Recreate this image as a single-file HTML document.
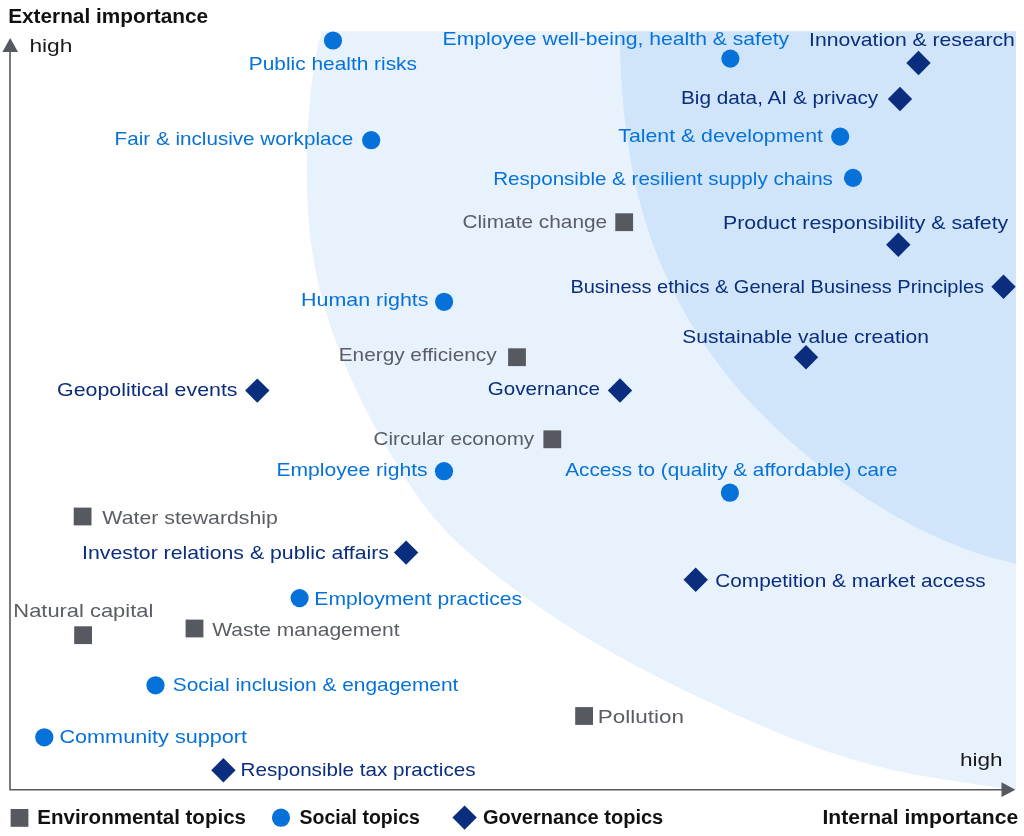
<!DOCTYPE html>
<html lang="en"><head><meta charset="utf-8"><title>Materiality matrix</title>
<style>
html,body{margin:0;padding:0;background:#fff;}
body{width:1024px;height:836px;overflow:hidden;}
svg{display:block;}
text{font-family:"Liberation Sans",Arial,sans-serif;font-size:18.6px;}
.b{font-weight:bold;font-size:19.5px;}
</style></head><body>
<svg width="1024" height="836" viewBox="0 0 1024 836">
<rect width="1024" height="836" fill="#ffffff"/>
<path d="M321.5 31.2 L318.0 45.4 L315.1 59.9 L312.8 74.6 L311.0 89.3 L309.6 104.0 L308.5 118.8 L307.7 133.6 L307.1 148.5 L306.8 163.4 L306.8 178.2 L307.1 193.1 L307.8 207.9 L308.8 222.7 L310.3 237.4 L312.3 252.1 L314.8 266.7 L317.8 281.2 L321.3 295.5 L325.3 309.8 L329.7 323.9 L334.6 338.0 L339.8 351.9 L345.3 365.6 L351.2 379.2 L357.5 392.7 L364.0 406.1 L370.8 419.3 L377.9 432.4 L385.2 445.3 L392.8 458.1 L400.6 470.8 L408.6 483.3 L416.9 495.6 L425.6 507.5 L434.9 519.0 L444.8 529.9 L455.2 540.4 L466.1 550.4 L477.3 560.2 L488.8 569.6 L500.5 578.8 L512.4 587.8 L524.4 596.6 L536.5 605.2 L548.8 613.6 L561.1 621.7 L573.6 629.7 L586.2 637.5 L598.9 645.1 L611.7 652.5 L624.6 659.8 L637.7 666.8 L650.8 673.6 L664.1 680.3 L677.4 686.9 L690.8 693.4 L704.2 699.8 L717.6 706.1 L731.1 712.4 L744.7 718.5 L758.2 724.5 L771.9 730.3 L785.6 735.9 L799.4 741.3 L813.3 746.5 L827.3 751.4 L841.3 756.0 L855.5 760.3 L869.8 764.3 L884.1 767.9 L898.6 771.2 L913.2 774.2 L927.9 776.8 L942.6 779.3 L957.3 781.6 L972.0 783.7 L986.7 785.7 L1001.4 787.7 L1016.0 789.6 L1016.0 31.2 Z" fill="#e8f2fd"/>
<path d="M619.7 31.2 L619.8 40.1 L620.0 49.1 L620.3 58.2 L620.7 67.2 L621.1 76.3 L621.7 85.4 L622.4 94.5 L623.1 103.6 L624.0 112.7 L625.0 121.8 L626.1 130.8 L627.4 139.9 L628.7 148.9 L630.2 157.9 L631.9 166.9 L633.6 175.8 L635.6 184.7 L637.7 193.6 L639.9 202.4 L642.3 211.2 L644.8 219.9 L647.6 228.6 L650.5 237.2 L653.5 245.7 L656.8 254.2 L660.2 262.6 L663.8 271.0 L667.5 279.2 L671.4 287.4 L675.5 295.5 L679.7 303.6 L684.1 311.5 L688.6 319.4 L693.3 327.2 L698.1 334.9 L703.1 342.5 L708.2 350.0 L713.5 357.4 L718.9 364.7 L724.4 371.9 L730.1 379.0 L735.9 386.0 L741.8 392.9 L747.9 399.7 L754.1 406.4 L760.4 413.0 L766.8 419.4 L773.3 425.8 L780.0 432.0 L786.7 438.2 L793.6 444.2 L800.5 450.1 L807.5 456.0 L814.7 461.7 L821.9 467.3 L829.2 472.8 L836.5 478.2 L844.0 483.5 L851.5 488.6 L859.1 493.7 L866.7 498.7 L874.4 503.6 L882.2 508.3 L890.0 513.0 L897.9 517.5 L905.8 521.9 L913.8 526.2 L921.9 530.3 L930.0 534.2 L938.3 538.0 L946.6 541.7 L954.9 545.1 L963.4 548.3 L971.9 551.4 L980.6 554.2 L989.3 556.9 L998.1 559.3 L1007.0 561.5 L1016.0 563.4 L1016.0 31.2 Z" fill="#d0e5f9"/>
<path d="M10 50V789.8H1003" fill="none" stroke="#565960" stroke-width="1.6"/>
<path d="M10.2 38L18 52H2.4Z" fill="#565960"/>
<path d="M1015.4 789.7L1001.5 782.3V797.1Z" fill="#565960"/>
<rect x="615.3" y="213.3" width="17.8" height="17.8" fill="#565960"/>
<rect x="508.1" y="348.3" width="17.8" height="17.8" fill="#565960"/>
<rect x="543.4" y="430.4" width="17.8" height="17.8" fill="#565960"/>
<rect x="73.7" y="507.6" width="17.8" height="17.8" fill="#565960"/>
<rect x="74.2" y="626.3" width="17.8" height="17.8" fill="#565960"/>
<rect x="185.6" y="619.6" width="17.8" height="17.8" fill="#565960"/>
<rect x="575.2" y="707.1" width="17.8" height="17.8" fill="#565960"/>
<rect x="10.6" y="809.0" width="17.8" height="17.8" fill="#565960"/>
<circle cx="333.0" cy="40.5" r="9.1" fill="#0672d9"/>
<circle cx="730.4" cy="58.6" r="9.1" fill="#0672d9"/>
<circle cx="840.2" cy="136.6" r="9.1" fill="#0672d9"/>
<circle cx="853.0" cy="177.9" r="9.1" fill="#0672d9"/>
<circle cx="371.2" cy="140.2" r="9.1" fill="#0672d9"/>
<circle cx="444.1" cy="301.8" r="9.1" fill="#0672d9"/>
<circle cx="444.0" cy="471.2" r="9.1" fill="#0672d9"/>
<circle cx="729.9" cy="492.7" r="9.1" fill="#0672d9"/>
<circle cx="299.6" cy="598.1" r="9.1" fill="#0672d9"/>
<circle cx="155.5" cy="685.3" r="9.1" fill="#0672d9"/>
<circle cx="44.3" cy="737.3" r="9.1" fill="#0672d9"/>
<circle cx="281.0" cy="817.7" r="9.1" fill="#0672d9"/>
<path d="M918.5 50.8L930.7 63.0L918.5 75.2L906.3 63.0Z" fill="#0a2d7e"/>
<path d="M900.0 86.8L912.2 99.0L900.0 111.2L887.8 99.0Z" fill="#0a2d7e"/>
<path d="M898.3 232.6L910.5 244.8L898.3 257.0L886.1 244.8Z" fill="#0a2d7e"/>
<path d="M1003.5 274.5L1015.7 286.7L1003.5 298.9L991.3 286.7Z" fill="#0a2d7e"/>
<path d="M806.0 345.1L818.2 357.3L806.0 369.5L793.8 357.3Z" fill="#0a2d7e"/>
<path d="M257.3 378.4L269.5 390.6L257.3 402.8L245.1 390.6Z" fill="#0a2d7e"/>
<path d="M620.0 378.3L632.2 390.5L620.0 402.7L607.8 390.5Z" fill="#0a2d7e"/>
<path d="M406.1 540.4L418.3 552.6L406.1 564.8L393.9 552.6Z" fill="#0a2d7e"/>
<path d="M695.7 567.5L707.9 579.7L695.7 591.9L683.5 579.7Z" fill="#0a2d7e"/>
<path d="M223.4 758.0L235.6 770.2L223.4 782.4L211.2 770.2Z" fill="#0a2d7e"/>
<path d="M464.6 805.4L476.8 817.6L464.6 829.8L452.4 817.6Z" fill="#0a2d7e"/>
<text x="248.83" y="70.0" fill="#0672d9" textLength="168.13" lengthAdjust="spacingAndGlyphs">Public health risks</text>
<text x="442.56" y="45.0" fill="#0672d9" textLength="346.61" lengthAdjust="spacingAndGlyphs">Employee well-being, health &amp; safety</text>
<text x="114.60" y="145.0" fill="#0672d9" textLength="238.73" lengthAdjust="spacingAndGlyphs">Fair &amp; inclusive workplace</text>
<text x="809.10" y="46.0" fill="#0a2d7e" textLength="205.74" lengthAdjust="spacingAndGlyphs">Innovation &amp; research</text>
<text x="681.04" y="104.0" fill="#0a2d7e" textLength="197.16" lengthAdjust="spacingAndGlyphs">Big data, AI &amp; privacy</text>
<text x="618.32" y="142.0" fill="#0672d9" textLength="204.63" lengthAdjust="spacingAndGlyphs">Talent &amp; development</text>
<text x="493.15" y="185.0" fill="#0672d9" textLength="339.75" lengthAdjust="spacingAndGlyphs">Responsible &amp; resilient supply chains</text>
<text x="462.46" y="228.0" fill="#5a5d65" textLength="144.75" lengthAdjust="spacingAndGlyphs">Climate change</text>
<text x="723.00" y="229.0" fill="#0a2d7e" textLength="285.21" lengthAdjust="spacingAndGlyphs">Product responsibility &amp; safety</text>
<text x="570.40" y="293.0" fill="#0a2d7e" textLength="413.64" lengthAdjust="spacingAndGlyphs">Business ethics &amp; General Business Principles</text>
<text x="301.09" y="306.0" fill="#0672d9" textLength="127.41" lengthAdjust="spacingAndGlyphs">Human rights</text>
<text x="682.25" y="343.0" fill="#0a2d7e" textLength="246.61" lengthAdjust="spacingAndGlyphs">Sustainable value creation</text>
<text x="338.74" y="361.0" fill="#5a5d65" textLength="157.90" lengthAdjust="spacingAndGlyphs">Energy efficiency</text>
<text x="57.03" y="396.0" fill="#0a2d7e" textLength="180.50" lengthAdjust="spacingAndGlyphs">Geopolitical events</text>
<text x="487.87" y="395.0" fill="#0a2d7e" textLength="112.01" lengthAdjust="spacingAndGlyphs">Governance</text>
<text x="373.57" y="445.0" fill="#5a5d65" textLength="160.64" lengthAdjust="spacingAndGlyphs">Circular economy</text>
<text x="276.41" y="476.0" fill="#0672d9" textLength="151.23" lengthAdjust="spacingAndGlyphs">Employee rights</text>
<text x="565.30" y="476.0" fill="#0672d9" textLength="332.23" lengthAdjust="spacingAndGlyphs">Access to (quality &amp; affordable) care</text>
<text x="102.39" y="524.0" fill="#5a5d65" textLength="175.53" lengthAdjust="spacingAndGlyphs">Water stewardship</text>
<text x="82.09" y="559.0" fill="#0a2d7e" textLength="306.92" lengthAdjust="spacingAndGlyphs">Investor relations &amp; public affairs</text>
<text x="715.26" y="587.0" fill="#0a2d7e" textLength="270.47" lengthAdjust="spacingAndGlyphs">Competition &amp; market access</text>
<text x="314.31" y="605.0" fill="#0672d9" textLength="207.78" lengthAdjust="spacingAndGlyphs">Employment practices</text>
<text x="13.35" y="617.0" fill="#5a5d65" textLength="139.92" lengthAdjust="spacingAndGlyphs">Natural capital</text>
<text x="212.19" y="636.0" fill="#5a5d65" textLength="187.35" lengthAdjust="spacingAndGlyphs">Waste management</text>
<text x="172.76" y="691.0" fill="#0672d9" textLength="285.56" lengthAdjust="spacingAndGlyphs">Social inclusion &amp; engagement</text>
<text x="597.81" y="723.0" fill="#5a5d65" textLength="86.07" lengthAdjust="spacingAndGlyphs">Pollution</text>
<text x="59.42" y="743.0" fill="#0672d9" textLength="187.70" lengthAdjust="spacingAndGlyphs">Community support</text>
<text x="240.55" y="776.0" fill="#0a2d7e" textLength="234.97" lengthAdjust="spacingAndGlyphs">Responsible tax practices</text>
<text x="29.41" y="52.0" fill="#1a1a1a" textLength="42.97" lengthAdjust="spacingAndGlyphs">high</text>
<text x="959.92" y="766.0" fill="#1a1a1a" textLength="42.65" lengthAdjust="spacingAndGlyphs">high</text>
<text class="b" x="8.15" y="23.0" fill="#111111" textLength="199.96" lengthAdjust="spacingAndGlyphs">External importance</text>
<text class="b" x="822.43" y="824.0" fill="#111111" textLength="195.80" lengthAdjust="spacingAndGlyphs">Internal importance</text>
<text class="b" x="37.27" y="824.0" fill="#111111" textLength="208.73" lengthAdjust="spacingAndGlyphs">Environmental topics</text>
<text class="b" x="299.51" y="824.0" fill="#111111" textLength="120.34" lengthAdjust="spacingAndGlyphs">Social topics</text>
<text class="b" x="482.90" y="824.0" fill="#111111" textLength="180.37" lengthAdjust="spacingAndGlyphs">Governance topics</text>
</svg>
</body></html>
